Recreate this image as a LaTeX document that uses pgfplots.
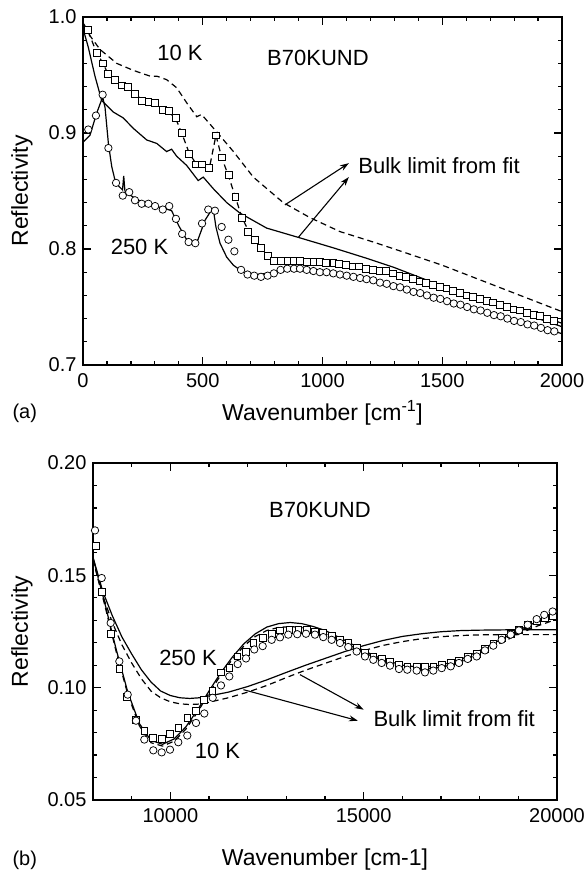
\documentclass[border=0pt]{standalone}
\usepackage{fontspec}
\setmainfont{Liberation Sans}
\usepackage{pgfplots}
\pgfplotsset{compat=1.18}
\usetikzlibrary{arrows.meta}

\pgfplotsset{
  refl/.style={
    scale only axis,
    axis line style={line width=1.6pt},
    every tick/.style={black,line width=1.2pt},
    major tick length=8pt, minor tick length=4pt,
    tick align=inside,
    xtick pos=both, ytick pos=both,
    xticklabel pos=lower, yticklabel pos=left,
    scaled x ticks=false, scaled y ticks=false,
    /pgf/number format/assume math mode=true,
    /pgf/number format/1000 sep={},
    tick label style={font=\fontsize{20}{24}\selectfont},
    xticklabel style={yshift=-5pt},
    yticklabel style={xshift=-3pt},
    every axis x label/.style={at={(axis description cs:0.5,0)},anchor=center,font=\fontsize{23}{27}\selectfont},
    every axis y label/.style={at={(axis description cs:0,0.5)},anchor=center,rotate=90,font=\fontsize{23}{27}\selectfont},
  },
  fitline/.style={black,line width=1.2pt,no marks},
  fitdash/.style={black,line width=1.2pt,no marks,dash pattern=on 6pt off 4pt},
  sq/.style={only marks,mark=square*,mark size=3.4pt,mark options={fill=white,draw=black,line width=0.75pt}},
  ci/.style={only marks,mark=*,mark size=3.7pt,mark options={fill=white,draw=black,line width=0.75pt}},
}
\newcommand{\txt}{\fontsize{22}{26}\selectfont}

% panel (a): 10 K squares, 250 K circles
\pgfplotstableread{
x y
21 0.989
57 0.969
84 0.960
104 0.951
134 0.946
162 0.941
189 0.940
217 0.934
245 0.928
273 0.927
301 0.926
333 0.920
360 0.919
388 0.913
412 0.900
443 0.882
470 0.873
498 0.873
526 0.870
555 0.898
579 0.879
609 0.864
636 0.845
662 0.827
690 0.815
718 0.808
743 0.801
771 0.794
797 0.790
825 0.790
853 0.790
881 0.790
906 0.790
934 0.789
962 0.789
989 0.789
1015 0.788
1045 0.788
1070 0.787
1097 0.786
1126 0.785
1153 0.785
1182 0.783
1209 0.782
1240 0.781
1265 0.781
1293 0.779
1321 0.777
1349 0.776
1377 0.774
1405 0.772
1433 0.771
1461 0.769
1489 0.767
1517 0.766
1545 0.764
1573 0.762
1601 0.760
1629 0.759
1657 0.757
1685 0.755
1713 0.754
1741 0.752
1769 0.750
1797 0.748
1825 0.747
1853 0.745
1881 0.743
1909 0.742
1937 0.740
1965 0.738
}\sqa
\pgfplotstableread{
x y
22 0.903
54 0.915
82 0.933
106 0.887
138 0.857
166 0.846
193 0.849
217 0.842
245 0.839
273 0.839
301 0.837
333 0.834
360 0.837
388 0.826
414 0.813
441 0.806
469 0.805
497 0.822
523 0.834
551 0.833
579 0.819
607 0.808
632 0.798
660 0.782
687 0.778
715 0.777
743 0.776
771 0.777
797 0.779
825 0.782
853 0.783
881 0.783
906 0.783
934 0.782
962 0.781
989 0.780
1017 0.780
1045 0.779
1073 0.778
1101 0.777
1129 0.776
1157 0.775
1184 0.774
1212 0.773
1240 0.771
1268 0.770
1296 0.768
1324 0.767
1352 0.765
1380 0.763
1408 0.762
1436 0.760
1464 0.758
1492 0.757
1520 0.755
1548 0.753
1576 0.752
1604 0.750
1632 0.748
1660 0.747
1688 0.745
1716 0.743
1744 0.742
1772 0.740
1800 0.738
1828 0.737
1856 0.735
1884 0.734
1912 0.732
1940 0.730
1968 0.729
}\cia
% panel (a) fits
\pgfplotstableread{
x y
0 0.992
18 0.987
71 0.972
141 0.960
210 0.954
280 0.949
308 0.949
349 0.946
391 0.939
433 0.926
475 0.914
495 0.916
516 0.911
558 0.901
628 0.884
711 0.862
836 0.840
948 0.827
1073 0.815
1212 0.806
1300 0.800
1400 0.793
1500 0.786
1600 0.778
1700 0.770
1800 0.762
1900 0.754
2000 0.746
}\bulkdasha
\pgfplotstableread{
x y
0 0.990
22 0.974
50 0.949
78 0.928
127 0.918
168 0.913
210 0.904
266 0.894
308 0.891
349 0.884
370 0.886
391 0.880
433 0.872
481 0.859
502 0.862
544 0.852
600 0.840
655 0.831
767 0.818
899 0.810
1045 0.801
1184 0.792
1300 0.784
1450 0.772
1600 0.761
1800 0.747
2000 0.733
}\bulksolida
\pgfplotstableread{
x y
0 0.892
29 0.898
57 0.917
82 0.931
92 0.922
106 0.891
120 0.871
134 0.859
150 0.854
165 0.851
170 0.863
175 0.850
200 0.846
250 0.840
300 0.837
340 0.835
370 0.833
400 0.820
430 0.809
460 0.805
480 0.808
510 0.825
535 0.833
545 0.833
555 0.819
572 0.805
600 0.793
628 0.786
669 0.780
725 0.778
767 0.779
800 0.780
850 0.783
900 0.783
1000 0.780
1100 0.777
1200 0.773
1300 0.768
1500 0.757
1700 0.745
1900 0.733
2000 0.727
}\fitcia
\pgfplotstableread{
x y
0 0.995
21 0.988
57 0.969
84 0.960
104 0.951
134 0.946
162 0.941
189 0.939
217 0.934
245 0.929
273 0.927
301 0.925
333 0.920
360 0.918
388 0.912
412 0.900
443 0.883
470 0.874
498 0.873
526 0.868
555 0.898
579 0.879
609 0.862
636 0.845
662 0.828
690 0.816
718 0.807
743 0.800
771 0.794
797 0.791
900 0.790
1000 0.789
1100 0.786
1200 0.783
1300 0.779
1500 0.767
1700 0.755
1900 0.743
2000 0.736
}\fitsqa

% panel (b)
\pgfplotstableread{
x y
8070 0.163
8225 0.1428
8457 0.124
8681 0.1083
8871 0.0959
9112 0.0858
9327 0.0806
9544 0.0777
9776 0.0773
9991 0.0796
10206 0.0821
10439 0.0865
10664 0.0895
10870 0.0947
11086 0.0987
11302 0.1068
11525 0.1087
11732 0.1139
11957 0.1161
12146 0.1201
12388 0.1221
12621 0.1240
12836 0.1255
13077 0.1258
13309 0.1258
13526 0.1258
13740 0.1250
13955 0.1243
14172 0.1231
14387 0.1213
14602 0.1199
14819 0.1176
15034 0.1154
15249 0.1139
15466 0.1128
15681 0.1117
15914 0.1102
16128 0.1095
16371 0.1091
16586 0.1091
16801 0.1095
17018 0.1102
17250 0.1110
17465 0.1121
17690 0.1136
17922 0.1151
18137 0.1172
18352 0.1196
18569 0.1221
18802 0.1240
19016 0.1258
19241 0.1280
19474 0.1295
19690 0.1310
19900 0.1320
}\sqb
\pgfplotstableread{
x y
8052 0.170
8225 0.1488
8457 0.1288
8681 0.1117
8897 0.0969
9112 0.0853
9327 0.0769
9560 0.0721
9776 0.0712
9991 0.0724
10206 0.0757
10439 0.0787
10664 0.0843
10879 0.0885
11095 0.0955
11310 0.1010
11525 0.1050
11742 0.1105
11957 0.1130
12171 0.1170
12388 0.1185
12621 0.1213
12836 0.1224
13050 0.1236
13283 0.1238
13508 0.1240
13740 0.1236
13955 0.1225
14172 0.1213
14387 0.1199
14602 0.1181
14819 0.1161
15034 0.1139
15249 0.1124
15466 0.1110
15681 0.1098
15914 0.1083
16128 0.1080
16371 0.1076
16586 0.1068
16801 0.1076
17018 0.1087
17250 0.1095
17465 0.1110
17690 0.1128
17922 0.1139
18137 0.1166
18352 0.1187
18569 0.1213
18802 0.1236
19016 0.1255
19241 0.1280
19474 0.1305
19670 0.1324
19887 0.1339
}\cib
\pgfplotstableread{
x y
8000 0.158
8300 0.138
8600 0.117
8900 0.098
9200 0.084
9500 0.0765
9800 0.0748
10100 0.0772
10400 0.0825
10700 0.0900
11000 0.0985
11300 0.1065
11600 0.1135
11900 0.1195
12200 0.1240
12500 0.1270
12800 0.1285
13100 0.1290
13400 0.1285
13700 0.1272
14000 0.1255
14500 0.1212
15000 0.1165
15500 0.1125
16000 0.1100
16500 0.1090
17000 0.1100
17500 0.1125
18000 0.1165
18500 0.1210
19000 0.1255
19500 0.1295
20000 0.1330
}\fitsolidb
\pgfplotstableread{
x y
8000 0.157
8300 0.137
8600 0.116
8900 0.097
9200 0.083
9500 0.0755
9800 0.0740
10100 0.0762
10400 0.0815
10700 0.0890
11000 0.0975
11300 0.1055
11600 0.1125
11900 0.1185
12200 0.1228
12500 0.1255
12800 0.1268
13100 0.1272
13400 0.1268
13700 0.1256
14000 0.1240
14500 0.1200
15000 0.1157
15500 0.1118
16000 0.1093
16500 0.1083
17000 0.1090
17500 0.1113
18000 0.1150
18500 0.1195
19000 0.1238
19500 0.1275
20000 0.1305
}\fitdashb
\pgfplotstableread{
x y
8000 0.158
8250 0.143
8500 0.132
8750 0.1225
9000 0.115
9250 0.108
9500 0.1025
9750 0.0985
10000 0.0965
10250 0.0955
10500 0.0952
10750 0.0955
11000 0.0963
11500 0.0980
12000 0.1005
12500 0.1035
13000 0.1068
13500 0.1100
14000 0.1130
14500 0.1160
15000 0.1187
15500 0.1210
16000 0.1228
16500 0.1240
17000 0.1249
17500 0.1254
18000 0.1256
19000 0.1258
20000 0.1258
}\bulksolidb
\pgfplotstableread{
x y
8000 0.157
8250 0.141
8500 0.129
8750 0.119
9000 0.111
9250 0.104
9500 0.0985
9750 0.0955
10000 0.0937
10250 0.0928
10500 0.0925
10750 0.0927
11000 0.0935
11500 0.0955
12000 0.0980
12500 0.1010
13000 0.1045
13500 0.1078
14000 0.1108
14500 0.1138
15000 0.1165
15500 0.1188
16000 0.1205
16500 0.1218
17000 0.1227
17500 0.1232
18000 0.1235
19000 0.1236
20000 0.1236
}\bulkdashb

\begin{document}
\begin{tikzpicture}
\useasboundingbox (0,0) rectangle (587pt,875pt);

\begin{axis}[refl,
  at={(83pt,510pt)}, anchor=south west,
  width=479pt, height=348pt,
  xmin=0, xmax=2000, ymin=0.7, ymax=1.0,
  xtick={0,500,...,2000}, minor x tick num=4,
  ytick={0.7,0.8,0.9,1.0}, minor y tick num=4,
  yticklabel style={/pgf/number format/.cd,fixed,fixed zerofill,precision=1},
  xlabel={Wavenumber [cm\textsuperscript{-1}]},
  ylabel={Reflectivity},
  xlabel style={yshift=-48pt},
  ylabel style={yshift=61pt},
]
\addplot[fitdash] table {\bulkdasha};
\addplot[fitline] table {\bulksolida};
\addplot[fitline] table {\fitcia};
\addplot[fitdash] table {\fitsqa};
\addplot[sq] table {\sqa};
\addplot[ci] table {\cia};
\node[font=\txt] at (axis cs:405,0.969) {10 K};
\node[font=\txt] at (axis cs:981,0.965) {B70KUND};
\node[font=\txt] at (axis cs:236,0.802) {250 K};
\node[font=\txt,anchor=west] at (axis cs:1135,0.872) {Bulk limit from fit};
\draw[line width=1.1pt,-{Stealth[length=9pt,width=6pt]}] (axis cs:843,0.838) -- (axis cs:1110,0.874);
\draw[line width=1.1pt,-{Stealth[length=9pt,width=6pt]}] (axis cs:899,0.810) -- (axis cs:1110,0.862);
\end{axis}
\node[font=\fontsize{20}{24}\selectfont,anchor=west] at (9pt,462pt) {(a)};

\begin{axis}[refl,
  at={(93pt,75pt)}, anchor=south west,
  width=464pt, height=337pt,
  xmin=8000, xmax=20000, ymin=0.05, ymax=0.20,
  xtick={10000,15000,20000}, minor xtick={8000,9000,11000,12000,13000,14000,16000,17000,18000,19000},
  ytick={0.05,0.10,0.15,0.20}, minor y tick num=4,
  yticklabel style={/pgf/number format/.cd,fixed,fixed zerofill,precision=2},
  xlabel={Wavenumber [cm-1]},
  ylabel={Reflectivity},
  xlabel style={yshift=-60pt},
  ylabel style={yshift=71pt},
]
\addplot[fitline] table {\bulksolidb};
\addplot[fitdash] table {\bulkdashb};
\addplot[fitline] table {\fitsolidb};
\addplot[fitdash] table {\fitdashb};
\addplot[sq] table {\sqb};
\addplot[ci] table {\cib};
\node[font=\txt] at (axis cs:13870,0.179) {B70KUND};
\node[font=\txt] at (axis cs:10457,0.1133) {250 K};
\node[font=\txt] at (axis cs:11220,0.0717) {10 K};
\node[font=\txt,anchor=west] at (axis cs:15163,0.0862) {Bulk limit from fit};
\draw[line width=1.1pt,-{Stealth[length=9pt,width=6pt]}] (axis cs:13353,0.1058) -- (axis cs:15000,0.0902);
\draw[line width=1.1pt,-{Stealth[length=9pt,width=6pt]}] (axis cs:11892,0.0991) -- (axis cs:14850,0.0853);
\end{axis}
\node[font=\fontsize{20}{24}\selectfont,anchor=west] at (9pt,15pt) {(b)};
\end{tikzpicture}
\end{document}
